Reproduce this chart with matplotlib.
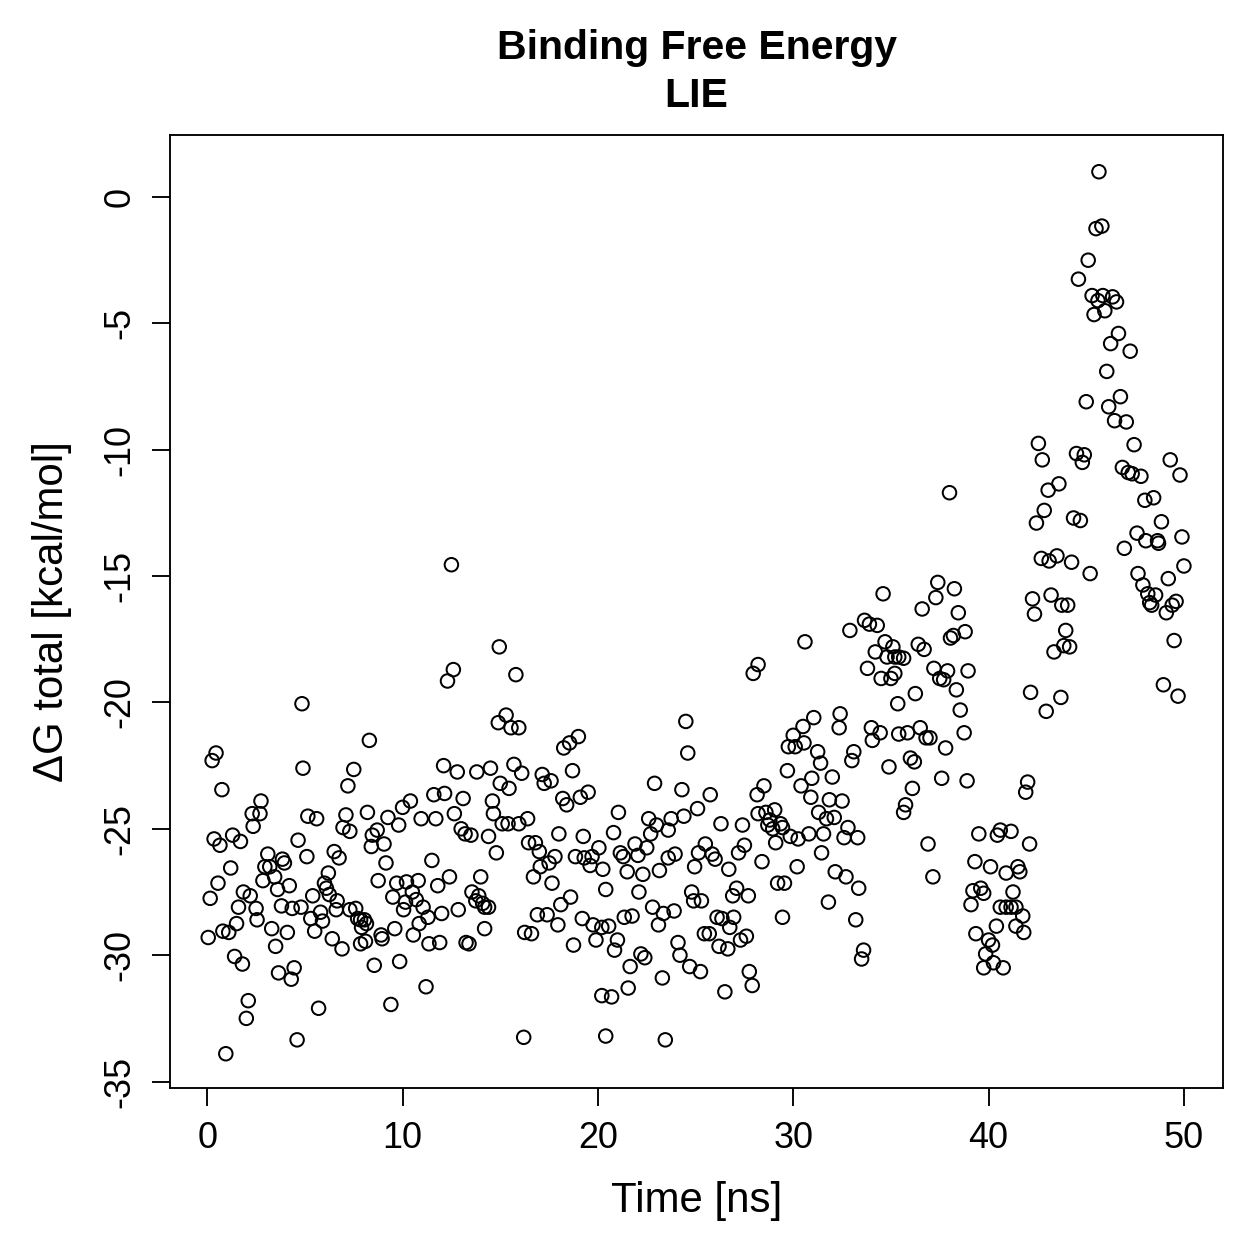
import matplotlib
matplotlib.use("Agg")
import matplotlib.pyplot as plt

plt.rcParams['font.family'] = ['Liberation Sans', 'DejaVu Sans']
plt.rcParams['axes.unicode_minus'] = False

title_lines = ["Binding Free Energy", "LIE"]
x_label = "Time [ns]"
y_label = "ΔG total [kcal/mol]"
x_ticks = [0, 10, 20, 30, 40, 50]
y_ticks = [0, -5, -10, -15, -20, -25, -30, -35]

# (time [ns], dG [kcal/mol]), grouped by time window
pts_00_05 = [(0.05,-29.3),(0.15,-27.75),(0.25,-22.3),(0.45,-22.0),(0.35,-25.4),(0.65,-25.65),(0.55,-27.15),
    (0.75,-23.45),(0.95,-33.9),(0.8,-29.05),(1.1,-29.1),(1.3,-25.25),(1.2,-26.55),(1.4,-30.05),(1.5,-28.75),
    (1.6,-28.1),(1.7,-25.5),(1.8,-30.35),(1.85,-27.5),(2.0,-32.5),(2.1,-31.8),(2.2,-27.65),(2.3,-24.4),
    (2.35,-24.9),(2.5,-28.15),(2.55,-28.6),(2.7,-24.4),(2.75,-23.9),(2.85,-27.05),(2.95,-26.5),(3.1,-26.0),
    (3.2,-26.5),(3.3,-28.95),(3.45,-26.9),(3.5,-29.65),(3.6,-27.4),(3.65,-30.7),(3.8,-28.05),(3.85,-26.2),
    (3.95,-26.35),(4.1,-29.1),(4.2,-27.25),(4.3,-30.95),(4.35,-28.15),(4.45,-30.5),(4.6,-33.35),(4.65,-25.45),
    (4.8,-28.1),(4.85,-20.05),(4.9,-22.6)]
pts_05_10 = [(5.15,-24.5),(5.6,-24.6),(5.1,-26.1),(5.4,-27.65),(5.3,-28.55),(5.5,-29.05),(5.7,-32.1),(5.8,-28.3),
    (5.9,-28.65),(6.0,-27.15),(6.1,-27.35),(6.2,-26.75),(6.25,-27.6),(6.4,-29.35),(6.5,-25.9),(6.6,-28.2),
    (6.65,-27.85),(6.75,-26.15),(6.9,-29.75),(6.95,-24.95),(7.1,-24.45),(7.2,-23.3),(7.3,-25.1),(7.3,-28.2),
    (7.5,-22.65),(7.6,-28.15),(7.7,-28.55),(7.85,-28.6),(7.9,-28.9),(7.85,-29.55),(8.05,-28.6),(8.1,-29.45),
    (8.15,-28.75),(8.2,-24.35),(8.3,-21.5),(8.4,-25.7),(8.45,-25.25),(8.55,-30.4),(8.7,-25.05),(8.75,-27.05),
    (8.9,-29.2),(8.95,-29.35),(9.05,-25.6),(9.15,-26.35),(9.25,-24.55),(9.4,-31.95),(9.5,-27.7),(9.6,-28.95),
    (9.7,-27.15),(9.8,-24.85),(9.85,-30.25)]
pts_10_15 = [(10.0,-24.15),(10.05,-28.2),(10.15,-27.9),(10.2,-27.1),(10.4,-23.9),(10.5,-27.5),(10.55,-29.2),
    (10.7,-27.8),(10.8,-27.05),(10.85,-28.75),(10.95,-24.6),(11.05,-28.1),(11.2,-31.25),(11.3,-28.5),
    (11.35,-29.55),(11.5,-26.25),(11.6,-23.65),(11.7,-24.6),(11.8,-27.25),(11.9,-29.5),(12.0,-28.35),
    (12.1,-22.5),(12.15,-23.6),(12.3,-19.15),(12.4,-26.9),(12.5,-14.55),(12.6,-18.7),(12.65,-24.4),
    (12.8,-22.75),(12.85,-28.2),(13.0,-25.0),(13.1,-23.8),(13.2,-25.2),(13.25,-29.5),(13.4,-29.55),
    (13.5,-25.25),(13.55,-27.5),(13.75,-27.85),(13.8,-22.75),(13.9,-27.65),(14.0,-26.9),(14.1,-27.95),
    (14.2,-28.1),(14.2,-28.95),(14.4,-25.3),(14.4,-28.1),(14.5,-22.6),(14.6,-23.9),(14.65,-24.4),
    (14.8,-25.95),(14.9,-20.8),(14.95,-17.8),(15.0,-23.2),(15.1,-24.8)]
pts_15_20 = [(15.3,-20.5),(15.4,-24.8),(15.45,-23.4),(15.55,-21.0),(15.7,-22.45),(15.8,-18.9),(15.95,-21.0),
    (15.95,-24.8),(16.1,-22.8),(16.2,-33.25),(16.25,-29.1),(16.4,-24.6),(16.45,-25.55),(16.6,-29.15),
    (16.7,-26.9),(16.8,-25.55),(16.9,-28.4),(17.0,-25.9),(17.05,-26.5),(17.15,-22.85),(17.25,-23.2),
    (17.4,-28.4),(17.5,-26.35),(17.6,-23.1),(17.65,-27.15),(17.8,-26.1),(17.95,-28.8),(18.0,-25.2),
    (18.1,-28.0),(18.2,-23.8),(18.25,-21.8),(18.4,-24.05),(18.55,-21.6),(18.6,-27.7),(18.7,-22.7),
    (18.75,-29.6),(18.85,-26.1),(19.0,-21.35),(19.1,-23.75),(19.2,-28.55),(19.25,-25.3),(19.3,-26.15),
    (19.5,-23.55),(19.6,-26.45),(19.7,-26.1),(19.75,-28.8),(19.9,-29.4),(20.05,-25.75),(20.2,-28.9),
    (20.2,-31.6),(20.25,-26.6),(20.4,-33.2)]
pts_20_25 = [(20.4,-27.4),(20.55,-28.85),(20.7,-31.65),(20.8,-25.15),(20.85,-29.8),(21.0,-29.4),(21.05,-24.35),
    (21.15,-25.95),(21.3,-26.1),(21.35,-28.5),(21.5,-26.7),(21.55,-31.3),(21.65,-30.45),(21.75,-28.45),
    (21.9,-25.6),(22.05,-26.05),(22.1,-27.5),(22.2,-29.95),(22.3,-26.8),(22.4,-30.1),(22.5,-25.75),
    (22.6,-24.6),(22.7,-25.2),(22.8,-28.1),(22.9,-23.2),(23.0,-24.85),(23.1,-28.8),(23.15,-26.65),
    (23.3,-30.9),(23.35,-28.35),(23.45,-33.35),(23.6,-25.05),(23.6,-26.15),(23.75,-24.6),(23.9,-28.25),
    (23.95,-26.0),(24.1,-29.5),(24.2,-30.0),(24.3,-23.45),(24.4,-24.5),(24.5,-20.75),(24.6,-22.0),
    (24.7,-30.45),(24.8,-27.5),(24.9,-27.85),(24.95,-26.5),(25.1,-24.2),(25.15,-25.95),(25.25,-30.65),
    (25.3,-27.85),(25.45,-29.15),(25.5,-25.6)]
pts_25_30 = [(25.75,-23.65),(25.7,-29.15),(25.85,-26.0),(26.0,-26.2),(26.1,-28.5),(26.2,-29.65),(26.3,-24.8),
    (26.35,-28.55),(26.5,-31.45),(26.65,-29.75),(26.7,-26.6),(26.75,-28.9),(26.9,-27.65),(26.95,-28.5),
    (27.1,-27.35),(27.2,-25.95),(27.3,-29.4),(27.4,-24.85),(27.5,-25.65),(27.6,-29.25),(27.7,-27.65),
    (27.75,-30.65),(27.9,-31.2),(27.95,-18.85),(28.15,-23.65),(28.2,-18.5),(28.2,-24.4),(28.4,-26.3),
    (28.5,-23.3),(28.6,-24.35),(28.7,-24.85),(28.8,-24.65),(28.95,-25.0),(29.05,-24.25),(29.1,-25.55),
    (29.2,-27.15),(29.35,-24.8),(29.45,-24.95),(29.45,-28.5),(29.55,-27.15),(29.7,-22.7),(29.75,-21.75),
    (29.85,-25.3),(30.0,-21.3),(30.1,-21.75),(30.2,-26.5),(30.25,-25.4),(30.4,-23.3),(30.5,-20.95),
    (30.55,-21.6)]
pts_30_35 = [(30.6,-17.6),(30.8,-25.2),(30.9,-23.75),(30.95,-23.0),(31.05,-20.6),(31.25,-21.95),(31.3,-24.35),
    (31.4,-22.4),(31.45,-25.95),(31.55,-25.2),(31.7,-24.6),(31.8,-27.9),(31.85,-23.85),(32.0,-22.95),
    (32.1,-24.55),(32.15,-26.7),(32.35,-21.0),(32.4,-20.45),(32.5,-23.9),(32.6,-25.35),(32.7,-26.9),
    (32.8,-24.95),(32.9,-17.15),(33.0,-22.3),(33.1,-21.95),(33.2,-28.6),(33.3,-25.35),(33.35,-27.35),
    (33.5,-30.15),(33.6,-29.8),(33.65,-16.75),(33.8,-18.65),(33.9,-16.9),(34.0,-21.0),(34.05,-21.5),
    (34.2,-18.0),(34.3,-16.95),(34.45,-21.2),(34.5,-19.05),(34.6,-15.7),(34.7,-17.6),(34.8,-18.2),
    (34.9,-22.55),(35.0,-19.05),(35.1,-17.8),(35.2,-18.2),(35.2,-18.85),(35.35,-20.05),(35.4,-18.2),
    (35.4,-21.25)]
pts_35_39 = [(35.65,-18.25),(35.65,-24.35),(35.75,-24.05),(35.85,-21.2),(36.0,-22.2),(36.1,-23.4),(36.2,-22.35),
    (36.25,-19.65),(36.4,-17.7),(36.5,-21.0),(36.6,-16.3),(36.7,-17.9),(36.8,-21.4),(36.9,-25.6),(37.0,-21.4),
    (37.15,-26.9),(37.2,-18.65),(37.3,-15.85),(37.4,-15.25),(37.5,-19.05),(37.6,-23.0),(37.7,-19.1),
    (37.8,-21.8),(37.9,-18.75),(38.0,-11.7),(38.05,-17.45),(38.2,-17.35),(38.25,-15.5),(38.35,-19.5),
    (38.45,-16.45),(38.55,-20.3),(38.75,-21.2),(38.8,-17.2),(38.9,-23.1),(38.95,-18.75)]
pts_39_42 = [(39.1,-28.0),(39.2,-27.45),(39.3,-26.3),(39.35,-29.15),(39.5,-25.2),(39.6,-27.35),(39.75,-27.55),
    (39.75,-30.5),(39.85,-29.95),(40.0,-29.4),(40.1,-26.5),(40.2,-29.6),(40.25,-30.3),(40.4,-28.85),
    (40.45,-25.25),(40.6,-25.05),(40.6,-28.1),(40.75,-30.5),(40.9,-26.75),(40.9,-28.1),(41.15,-25.1),
    (41.15,-28.1),(41.25,-27.5),(41.4,-28.1),(41.4,-28.85),(41.5,-26.5),(41.6,-26.7),(41.75,-28.45),
    (41.8,-29.1),(41.9,-23.55),(42.0,-23.15),(42.1,-25.6)]
pts_42_50 = [(42.15,-19.6),(42.25,-15.9),(42.35,-16.5),(42.45,-12.9),(42.55,-9.75),(42.75,-10.4),(42.7,-14.3),
    (42.85,-12.4),(42.95,-20.35),(43.05,-11.6),(43.1,-14.4),(43.2,-15.75),(43.35,-18.0),(43.5,-14.2),
    (43.6,-11.35),(43.7,-19.8),(43.75,-16.15),(43.85,-17.75),(43.95,-17.15),(44.05,-16.15),(44.15,-17.8),
    (44.25,-14.45),(44.35,-12.7),(44.6,-3.25),(44.5,-10.15),(44.7,-12.8),(44.8,-10.5),(44.9,-10.2),
    (45.0,-8.1),(45.1,-2.5),(45.2,-14.9),(45.3,-3.9),(45.4,-4.65),(45.5,-1.25),(45.6,-4.1),(45.65,1.0),
    (45.8,-1.15),(45.85,-3.9),(45.95,-4.5),(46.05,-6.9),(46.15,-8.3),(46.25,-5.8),(46.35,-3.95),(46.45,-8.85),
    (46.55,-4.15),(46.65,-5.4),(46.75,-7.9),(46.85,-10.7),(46.95,-13.9),(47.05,-8.9),(47.15,-10.9),
    (47.25,-6.1),(47.35,-10.95),(47.45,-9.8),(47.6,-13.3),(47.65,-14.9),(47.8,-11.05),(47.9,-15.35),
    (48.0,-12.0),(48.05,-13.6),(48.15,-15.7),(48.25,-16.05),(48.35,-16.15),(48.45,-11.9),(48.55,-15.75),
    (48.65,-13.6),(48.7,-13.7),(48.85,-12.85),(48.95,-19.3),(49.1,-16.45),(49.2,-15.1),(49.3,-10.4),
    (49.4,-16.15),(49.5,-17.55),(49.6,-16.0),(49.7,-19.75),(49.8,-11.0),(49.9,-13.45),(50.0,-14.6)]

all_pts = (pts_00_05 + pts_05_10 + pts_10_15 + pts_15_20 + pts_20_25 + pts_25_30
           + pts_30_35 + pts_35_39 + pts_39_42 + pts_42_50)
time_ns = [p[0] for p in all_pts]
dG = [p[1] for p in all_pts]

fig = plt.figure(figsize=(7, 7), dpi=180)
ax = fig.add_axes([170/1259, 1 - 1087/1259, (1222-170)/1259, (1087-135)/1259])

ax.scatter(time_ns, dG, s=5.4**2, facecolors='none', edgecolors='black', linewidths=0.8)

ax.set_xlim(-1.9, 52.0)
ax.set_ylim(-35.25, 2.45)
ax.set_xticks(x_ticks)
ax.set_yticks(y_ticks)
ax.set_xticklabels([str(t) for t in x_ticks])
ax.set_yticklabels([str(t) for t in y_ticks], rotation=90, va='center')
ax.tick_params(direction='out', length=7.2, width=0.75, labelsize=14.4, pad=6, colors='black')
for s in ax.spines.values():
    s.set_linewidth(0.75)

ax.set_xlabel(x_label, fontsize=16.8, labelpad=10)
ax.set_ylabel(y_label, fontsize=16.8, labelpad=12)

ax.text(0.5, 1 + (135 - 59) / 952, title_lines[0], transform=ax.transAxes, ha='center',
        va='baseline', fontsize=16.4, fontweight='bold')
ax.text(0.5, 1 + (135 - 107) / 952, title_lines[1], transform=ax.transAxes, ha='center',
        va='baseline', fontsize=16.4, fontweight='bold')

fig.savefig("out.png", dpi=180, facecolor='white')
